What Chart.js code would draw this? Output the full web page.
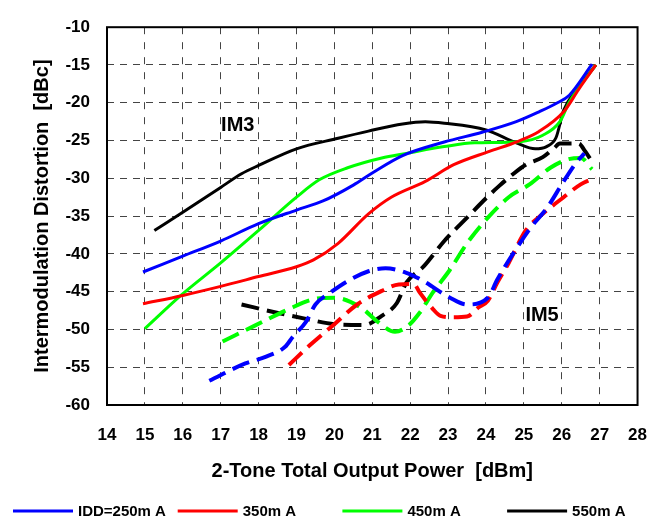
<!DOCTYPE html>
<html>
<head>
<meta charset="utf-8">
<script src="https://cdn.jsdelivr.net/npm/chart.js@4.4.1/dist/chart.umd.min.js"></script>
<style>
  html, body { margin: 0; padding: 0; background: #fff; }
  #wrap { width: 667px; height: 522px; }
</style>
</head>
<body>
<div id="wrap"><canvas id="imdChart" width="667" height="522"></canvas></div>
<script>
// Bias currents and their trace colours
const currentLabels = ['IDD=250m A', '350m A', '450m A', '550m A'];
const traceColors = ['#0000ff', '#ff0000', '#00ff00', '#000000'];

// Axis ranges / ticks
const powerTicks = [14, 28, 1];   // min, max, step [dBm]
const imdTicks = [-60, -10, 5];   // min, max, step [dBc]

// IM3 curves: [output power dBm, IMD dBc]
const im3_250 = [[14.95,-42.4],[16,-40.3],[17,-38.3],[18,-36],[19,-34.2],[19.7,-33],[20.5,-30.9],[21,-29.3],[21.8,-27],[22.9,-25.2],[23.9,-23.9],[24.8,-22.5],[25.4,-21.2],[25.85,-20.1],[26.2,-19],[26.8,-14.9]];
const im3_350 = [[14.95,-46.6],[16,-45.5],[17,-44.3],[18,-43],[19,-41.7],[19.45,-40.8],[20.1,-38.6],[20.9,-34.7],[21.5,-32.5],[22.4,-30.4],[23.15,-28.2],[24.05,-26.5],[24.85,-25.1],[25.4,-23.8],[26.05,-21.2],[26.45,-18.2],[26.9,-15]];
const im3_450 = [[15,-49.9],[15.95,-45.5],[17,-41.2],[18,-36.9],[19,-32.5],[19.6,-30.2],[20.35,-28.6],[21.25,-27.3],[21.9,-26.7],[22.9,-25.8],[23.7,-25.3],[24.9,-25.15],[25.5,-24.3],[25.95,-22.5],[26.2,-19.9],[26.9,-15]];
const im3_550 = [[15.25,-36.9],[16,-34.5],[17,-31.2],[17.55,-29.4],[18,-28.3],[19,-26.1],[20.1,-24.7],[20.9,-23.75],[21.8,-22.8],[22.4,-22.5],[22.9,-22.7],[24,-23.6],[24.8,-25.3],[25.3,-26.1],[25.6,-25.8],[25.85,-24.6],[26.05,-21],[26.4,-18.2],[26.9,-15]];

// IM5 curves
const im5_250 = [[16.7,-56.8],[17.65,-54.5],[18.2,-53.6],[18.7,-52.3],[18.9,-51],[19.25,-49],[19.5,-46.7],[19.9,-45.1],[20.35,-43.6],[20.9,-42.3],[21.35,-41.9],[21.9,-42.5],[22.35,-43.6],[23.05,-45.8],[23.5,-46.7],[24.05,-45.8],[24.3,-43.4],[24.7,-40.1],[25.2,-36.4],[25.6,-34],[26.05,-30.4],[26.4,-27.8],[26.6,-26.7]];
const im5_350 = [[18.8,-54.7],[19.35,-52.1],[20,-49.3],[20.6,-46.7],[21.25,-44.9],[21.7,-44.05],[22.1,-44],[22.25,-45.1],[22.6,-47.3],[22.8,-48.2],[23.15,-48.4],[23.5,-48.3],[23.8,-47.1],[24.05,-46.2],[24.3,-43.8],[24.6,-41.2],[25.05,-36.9],[25.5,-34.7],[26.05,-32.5],[26.5,-30.8],[26.9,-29.9]];
const im5_450 = [[17.05,-51.6],[17.9,-49.5],[18.8,-47.3],[19.45,-46],[20,-45.8],[20.7,-47.1],[21.15,-49],[21.6,-50.3],[21.95,-49.5],[22.25,-47.8],[22.6,-45.1],[23.05,-42.1],[23.5,-38.6],[24.05,-35.2],[24.6,-32.5],[25.15,-30.8],[25.7,-28.6],[26.15,-27.5],[26.5,-27.3],[26.8,-28.8]];
const im5_550 = [[17.55,-46.7],[18.45,-47.75],[19.25,-48.6],[20,-49.3],[20.8,-49.4],[21.25,-48.2],[21.65,-46.5],[21.9,-43.8],[22.35,-41.7],[22.9,-38.3],[23.5,-35.2],[24.05,-32.4],[24.35,-31],[24.7,-29.5],[25.05,-28.2],[25.5,-27.2],[25.8,-26],[25.95,-25.4],[26.45,-25.4],[26.6,-26.3],[26.8,-27.8]];

// Curve labels placed in data coordinates
const curveNotes = [['IM3', 17.45, -23.0], ['IM5', 25.48, -48.1]];

const im3Sets = [im3_250, im3_350, im3_450, im3_550];
const im5Sets = [im5_250, im5_350, im5_450, im5_550];

const FONT = '"Liberation Sans", Arial, sans-serif';

function toPoints(arr) {
    return arr.map(p => ({ x: p[0], y: p[1] }));
}

const datasets = [];
im5Sets.forEach((arr, i) => {
    datasets.push({
        label: currentLabels[i] + ' IM5',
        data: toPoints(arr),
        borderColor: traceColors[i],
        borderWidth: 4,
        borderDash: [18, 8],
        pointRadius: 0,
        cubicInterpolationMode: 'monotone',
        fill: false
    });
});
im3Sets.forEach((arr, i) => {
    datasets.push({
        label: currentLabels[i],
        data: toPoints(arr),
        borderColor: traceColors[i],
        borderWidth: 3,
        pointRadius: 0,
        cubicInterpolationMode: 'monotone',
        fill: false
    });
});

// Solid frame round the plot area
const framePlugin = {
    id: 'frame',
    afterDatasetsDraw(chart) {
        const { ctx, chartArea: a } = chart;
        ctx.save();
        ctx.strokeStyle = '#000';
        ctx.lineWidth = 2;
        ctx.strokeRect(a.left, a.top, a.right - a.left, a.bottom - a.top);
        ctx.restore();
    }
};

// IM3 / IM5 text on the plot
const notesPlugin = {
    id: 'notes',
    afterDatasetsDraw(chart) {
        const { ctx, scales: { x, y } } = chart;
        ctx.save();
        ctx.font = 'bold 20px ' + FONT;
        ctx.fillStyle = '#000';
        ctx.textAlign = 'center';
        ctx.textBaseline = 'middle';
        curveNotes.forEach(n => ctx.fillText(n[0], x.getPixelForValue(n[1]), y.getPixelForValue(n[2])));
        ctx.restore();
    }
};

// Legend row along the bottom, one fixed-width column per current
const legendPlugin = {
    id: 'bottomLegend',
    afterDraw(chart) {
        const { ctx } = chart;
        const y0 = 511;
        const colW = 164.7;
        ctx.save();
        ctx.font = 'bold 15px ' + FONT;
        ctx.textBaseline = 'middle';
        ctx.textAlign = 'left';
        currentLabels.forEach((lbl, i) => {
            const x0 = 13 + i * colW;
            ctx.strokeStyle = traceColors[i];
            ctx.lineWidth = 3;
            ctx.beginPath();
            ctx.moveTo(x0, y0);
            ctx.lineTo(x0 + 60, y0);
            ctx.stroke();
            ctx.fillStyle = '#000';
            ctx.fillText(lbl, x0 + 65, y0 + 1);
        });
        ctx.restore();
    }
};

new Chart(document.getElementById('imdChart'), {
    type: 'line',
    data: { datasets: datasets },
    plugins: [framePlugin, notesPlugin, legendPlugin],
    options: {
        responsive: false,
        animation: false,
        layout: { padding: { top: 20, right: 27, bottom: 30, left: 0 } },
        plugins: {
            legend: { display: false },
            tooltip: { enabled: false }
        },
        scales: {
            x: {
                type: 'linear',
                min: powerTicks[0],
                max: powerTicks[1],
                afterFit: (s) => { s.height = 87; },
                ticks: {
                    stepSize: powerTicks[2],
                    color: '#000',
                    padding: 20,
                    maxRotation: 0,
                    font: { family: FONT, size: 17, weight: 'bold' }
                },
                grid: { color: '#444', lineWidth: 1, drawTicks: false },
                border: { display: false, dash: [7, 8] },
                title: {
                    display: true,
                    text: '2-Tone Total Output Power  [dBm]',
                    color: '#000',
                    padding: { top: 0, bottom: 9 },
                    font: { family: FONT, size: 20, weight: 'bold' }
                }
            },
            y: {
                type: 'linear',
                min: imdTicks[0],
                max: imdTicks[1],
                afterFit: (s) => { s.width = 107; },
                ticks: {
                    stepSize: imdTicks[2],
                    color: '#000',
                    padding: 17,
                    font: { family: FONT, size: 17, weight: 'bold' }
                },
                grid: { color: '#444', lineWidth: 1, drawTicks: false },
                border: { display: false, dash: [7, 6] },
                title: {
                    display: true,
                    text: 'Intermodulation Distortion  [dBc]',
                    color: '#000',
                    padding: { top: 30, bottom: 0 },
                    font: { family: FONT, size: 20, weight: 'bold' }
                }
            }
        }
    }
});
</script>
</body>
</html>
